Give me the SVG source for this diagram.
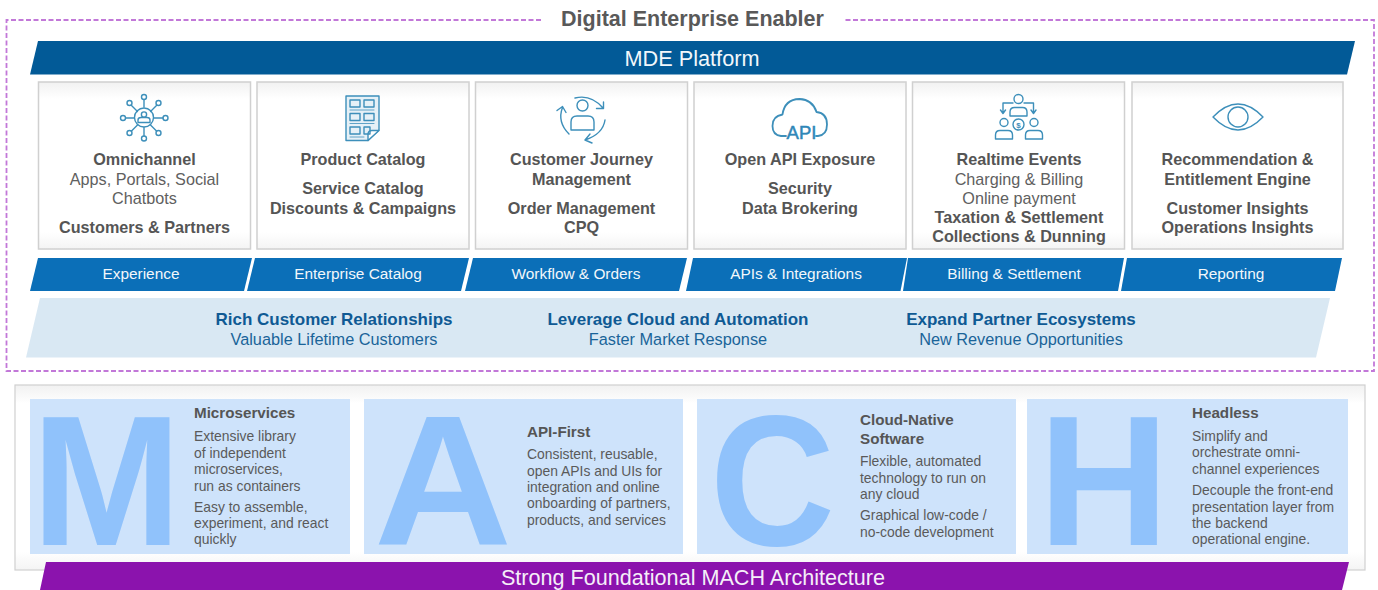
<svg xmlns="http://www.w3.org/2000/svg" width="1378" height="590" viewBox="0 0 1378 590">
<style>
text{font-family:"Liberation Sans",Arial,sans-serif}
.c{text-anchor:middle}
.cb{font-size:16.2px;font-weight:700;fill:#555;text-anchor:middle}
.cr{font-size:16.2px;fill:#606060;text-anchor:middle}
.tab{font-size:15.4px;fill:#f2f7fb;text-anchor:middle}
.b1{font-size:17px;font-weight:700;fill:#0f5a94;text-anchor:middle}
.b2{font-size:16.3px;fill:#1a6499;text-anchor:middle}
.h{font-size:15.2px;font-weight:700;fill:#555}
.t{font-size:13.9px;fill:#5a5a5a}
.big{font-size:186px;font-weight:700;fill:#90c2fb}
.card{fill:url(#cg);stroke:#d0d0d0;stroke-width:1.5}
.panel{fill:#cee3fb}
.ic{fill:none;stroke:#3d8fba;stroke-width:1.4;stroke-linecap:round;stroke-linejoin:round}
</style>
<defs>
<linearGradient id="cg" x1="0" y1="0" x2="0" y2="1">
<stop offset="0" stop-color="#f1f1f1"/><stop offset=".1" stop-color="#fff"/><stop offset=".9" stop-color="#fff"/><stop offset="1" stop-color="#f4f4f4"/>
</linearGradient>
</defs>
<rect width="1378" height="590" fill="#fff"/>
<g id="enabler-frame">
<path d="M541 20H6.500V371H1374V20H843" fill="none" stroke="#c278d8" stroke-width="1.8" stroke-dasharray="5 2.500"/>
<text x="692.500" y="26" class="c" font-size="21.500" font-weight="700" fill="#595959">Digital Enterprise Enabler</text>
</g>
<g id="mde-platform">
<polygon points="38,41 1355,41 1347,74.500 30,74.500" fill="#025a97"/>
<text x="692" y="66" class="c" font-size="21.700" fill="#f2f7fb">MDE Platform</text>
</g>
<g id="card-omnichannel">
<rect x="38.500" y="82" width="212" height="167" class="card"/>
<g class="ic">
<circle cx="144" cy="117.500" r="9.500"/><circle cx="144" cy="114.500" r="2.600"/><path d="M138 122.500v-2.500q0-2.500 3-2.500h6q3 0 3 2.500v2.500z"/>
<path d="M144 100v7M131.500 105.500l6 6M156.500 105.500l-6 6M126 118h8M154 118h9M131.500 131l6-6M156.500 131l-6-6M144 135.500v-8"/>
<circle cx="144" cy="97" r="2.500"/><circle cx="129.500" cy="103" r="2.500"/><circle cx="158.500" cy="103" r="2.500"/><circle cx="123" cy="118" r="2.500"/><circle cx="165.500" cy="118" r="2.500"/><circle cx="129.500" cy="133" r="2.500"/><circle cx="158.500" cy="133" r="2.500"/><circle cx="144" cy="138.500" r="2.500"/>
</g>
<text x="144.500" y="165" class="cb">Omnichannel</text>
<text x="144.500" y="185" class="cr">Apps, Portals, Social</text>
<text x="144.500" y="204" class="cr">Chatbots</text>
<text x="144.500" y="233" class="cb">Customers &amp; Partners</text>
</g>
<g id="card-product-catalog">
<rect x="257" y="82" width="212" height="167" class="card"/>
<g class="ic">
<path d="M346 96h33v34l-11 10.500h-22z" fill="#e6f1f7"/><path d="M379 130.500h-7q-4 0-4 4v6z" fill="#fff"/>
<rect x="350" y="100" width="10" height="7"/><rect x="364" y="100" width="10" height="7"/><rect x="350" y="113.500" width="10" height="7"/><rect x="364" y="113.500" width="10" height="7"/><rect x="350" y="127" width="10" height="7"/><rect x="364" y="127" width="6" height="7"/>
<path d="M350 110h24M350 123.500h24M350 137h14" stroke-width=".8"/>
</g>
<text x="363" y="165" class="cb">Product Catalog</text>
<text x="363" y="194" class="cb">Service Catalog</text>
<text x="363" y="214" class="cb">Discounts &amp; Campaigns</text>
</g>
<g id="card-journey">
<rect x="475.500" y="82" width="212" height="167" class="card"/>
<g class="ic">
<circle cx="582.500" cy="105.500" r="5.500"/>
<path d="M571 130v-8q0-6 6-6h11q6 0 6 6v8z"/>
<path d="M575 98q16-4 28 10M603.500 102v6.500h-7"/>
<path d="M569 134q-12-12-6.500-26.500M557 110.500l5.500-4 3.500 6"/>
<path d="M605 120q-2 14-20 20M590 134l-5 6 7 3"/>
</g>
<text x="581.500" y="165" class="cb">Customer Journey</text>
<text x="581.500" y="185" class="cb">Management</text>
<text x="581.500" y="214" class="cb">Order Management</text>
<text x="581.500" y="233" class="cb">CPQ</text>
</g>
<g id="card-api">
<rect x="694" y="82" width="212" height="167" class="card"/>
<path class="ic" style="stroke-width:1.800" d="M786 136h-5q-8.500-1-8.500-10 0-10 10-11.500 2-15 17-15.500 13 .5 17 13 10.500 1 10.500 12.500 0 10.500-9 11.500h-2"/>
<text x="801.500" y="139" class="c" font-size="18.500" fill="#2f87b8" stroke="#2f87b8" stroke-width=".5">API</text>
<text x="800" y="165" class="cb">Open API Exposure</text>
<text x="800" y="194" class="cb">Security</text>
<text x="800" y="214" class="cb">Data Brokering</text>
</g>
<g id="card-billing">
<rect x="912.500" y="82" width="212" height="167" class="card"/>
<g class="ic">
<circle cx="1018.500" cy="99" r="4.500"/><path d="M1010 116v-4q0-4.500 4.500-4.500h8q4.500 0 4.500 4.500v4z"/>
<circle cx="1004" cy="122.500" r="4"/><path d="M995.500 139v-4q0-4.500 4.500-4.500h8q4.500 0 4.500 4.500v4z"/>
<circle cx="1034" cy="122.500" r="4"/><path d="M1025.500 139v-4q0-4.500 4.500-4.500h8q4.500 0 4.500 4.500v4z"/>
<circle cx="1018.500" cy="124.500" r="5.500"/>
<path d="M1013 103h-10v10M1000.500 110l2.500 3.500 2.500-3.500M1024 103h9.500v10M1031 110l2.500 3.500 2.500-3.500"/>
</g>
<text x="1018.500" y="127.500" class="c" font-size="8" font-weight="700" fill="#3d8fba">$</text>
<text x="1019" y="165" class="cb">Realtime Events</text>
<text x="1019" y="185" class="cr">Charging &amp; Billing</text>
<text x="1019" y="204" class="cr">Online payment</text>
<text x="1019" y="223" class="cb">Taxation &amp; Settlement</text>
<text x="1019" y="242" class="cb">Collections &amp; Dunning</text>
</g>
<g id="card-reporting">
<rect x="1132" y="82" width="211" height="167" class="card"/>
<g class="ic">
<path d="M1213 117q25-26 50 0q-25 26-50 0z"/><circle cx="1238" cy="117" r="10"/>
</g>
<text x="1237.500" y="165" class="cb">Recommendation &amp;</text>
<text x="1237.500" y="185" class="cb">Entitlement Engine</text>
<text x="1237.500" y="214" class="cb">Customer Insights</text>
<text x="1237.500" y="233" class="cb">Operations Insights</text>
</g>
<g id="tabs" fill="#0b6fb8">
<polygon points="38,258 252,258 244,291 30,291"/>
<polygon points="255,258 469,258 461,291 247,291"/>
<polygon points="473,258 687,258 679,291 465,291"/>
<polygon points="693,258 907,258 900.500,291 686,291"/>
<polygon points="908,258 1124,258 1118,291 903,291"/>
<polygon points="1127,258 1342,258 1335,291 1121,291"/>
<text x="141" y="279" class="tab">Experience</text>
<text x="358" y="279" class="tab">Enterprise Catalog</text>
<text x="576" y="279" class="tab">Workflow &amp; Orders</text>
<text x="796" y="279" class="tab">APIs &amp; Integrations</text>
<text x="1014" y="279" class="tab">Billing &amp; Settlement</text>
<text x="1231" y="279" class="tab">Reporting</text>
</g>
<g id="benefits">
<polygon points="40,298 1330,298 1316,357.500 26,357.500" fill="#d9e8f3"/>
<text x="334" y="325" class="b1">Rich Customer Relationships</text>
<text x="334" y="345" class="b2">Valuable Lifetime Customers</text>
<text x="678" y="325" class="b1">Leverage Cloud and Automation</text>
<text x="678" y="345" class="b2">Faster Market Response</text>
<text x="1021" y="325" class="b1">Expand Partner Ecosystems</text>
<text x="1021" y="345" class="b2">New Revenue Opportunities</text>
</g>
<g id="mach-frame">
<rect x="15" y="385" width="1350" height="185" fill="url(#cg)" stroke="#d0d0d0" stroke-width="1.200"/>
</g>
<g id="mach-m">
<rect x="30" y="399" width="320" height="155" class="panel"/>
<text x="31.400" y="544.700" class="big" textLength="150" lengthAdjust="spacingAndGlyphs">M</text>
<text x="194" y="418" class="h">Microservices</text>
<text x="194" y="441" class="t">Extensive library</text>
<text x="194" y="458" class="t">of independent</text>
<text x="194" y="474" class="t">microservices,</text>
<text x="194" y="491" class="t">run as containers</text>
<text x="194" y="512" class="t">Easy to assemble,</text>
<text x="194" y="528" class="t">experiment, and react</text>
<text x="194" y="544" class="t">quickly</text>
</g>
<g id="mach-a">
<rect x="364" y="399" width="319" height="155" class="panel"/>
<text x="374" y="544.700" class="big" textLength="138" lengthAdjust="spacingAndGlyphs">A</text>
<text x="527" y="437" class="h">API-First</text>
<text x="527" y="459" class="t">Consistent, reusable,</text>
<text x="527" y="476" class="t">open APIs and UIs for</text>
<text x="527" y="492" class="t">integration and online</text>
<text x="527" y="508" class="t">onboarding of partners,</text>
<text x="527" y="525" class="t">products, and services</text>
</g>
<g id="mach-c">
<rect x="697" y="399" width="319" height="155" class="panel"/>
<text x="710" y="544.700" class="big" textLength="125" lengthAdjust="spacingAndGlyphs">C</text>
<text x="860" y="425" class="h">Cloud-Native</text>
<text x="860" y="444" class="h">Software</text>
<text x="860" y="466" class="t">Flexible, automated</text>
<text x="860" y="483" class="t">technology to run on</text>
<text x="860" y="499" class="t">any cloud</text>
<text x="860" y="520" class="t">Graphical low-code /</text>
<text x="860" y="537" class="t">no-code development</text>
</g>
<g id="mach-h">
<rect x="1027" y="399" width="321" height="155" class="panel"/>
<text x="1038.400" y="544.700" class="big" textLength="130.500" lengthAdjust="spacingAndGlyphs">H</text>
<text x="1192" y="418" class="h">Headless</text>
<text x="1192" y="441" class="t">Simplify and</text>
<text x="1192" y="457" class="t">orchestrate omni-</text>
<text x="1192" y="474" class="t">channel experiences</text>
<text x="1192" y="495" class="t">Decouple the front-end</text>
<text x="1192" y="512" class="t">presentation layer from</text>
<text x="1192" y="528" class="t">the backend</text>
<text x="1192" y="544" class="t">operational engine.</text>
</g>
<g id="mach-foundation">
<polygon points="46,562 1349,562 1342,590 40,590" fill="#8b13ad"/>
<text x="693" y="585" class="c" font-size="21.600" fill="#f5eef8">Strong Foundational MACH Architecture</text>
</g>
</svg>
